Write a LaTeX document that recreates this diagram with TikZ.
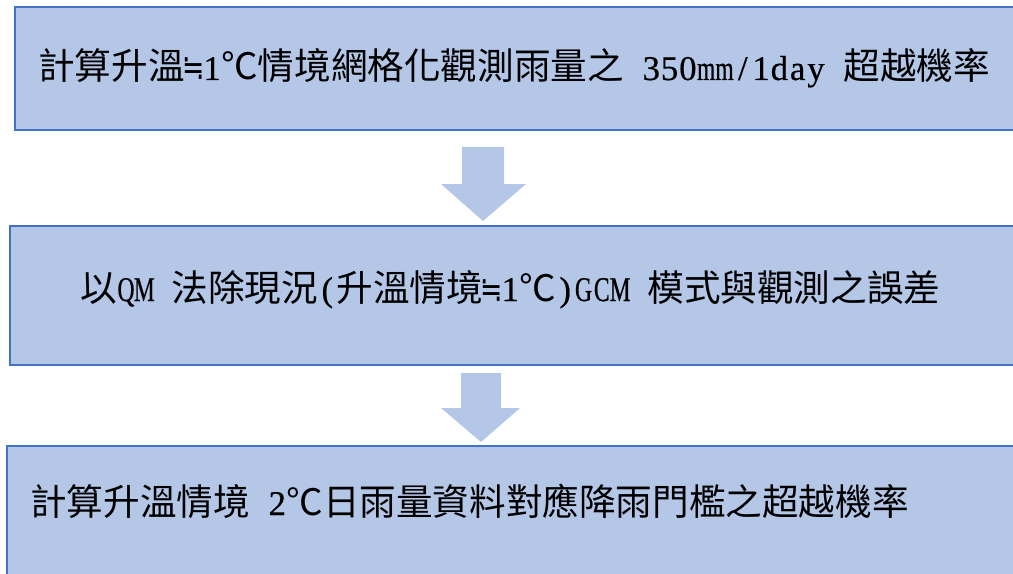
\documentclass[tikz,border=0pt]{standalone}
\usepackage{fontspec}
\setmainfont{Liberation Serif}
\newfontfamily\cjk{Noto Sans CJK TC}
\newfontfamily\latfont[FakeBold=0.5]{Liberation Serif}
\newfontfamily\latnfont[FakeStretch=0.68,FakeBold=0.5]{Liberation Serif}
\newfontfamily\symfont{DejaVu Sans}
\newlength\hw \setlength\hw{13.725pt}
\newcommand\hc[1]{\makebox[\hw][c]{\latfont\fontsize{26}{30}\selectfont #1}}
\newcommand\hn[1]{\makebox[\hw][c]{\latnfont\fontsize{26}{30}\selectfont #1}}
\newcommand\hs{\hspace*{\hw}}
\newcommand\approxeqsym{\makebox[\hw][c]{\symfont\fontsize{21}{24}\selectfont\scalebox{0.95}[1.25]{≒}}}
\definecolor{boxfill}{HTML}{B4C7E7}
\definecolor{boxline}{HTML}{4472C4}
\begin{document}
\begin{tikzpicture}[x=0.75pt,y=-0.75pt,
  stepbox/.style={draw=boxline,line width=1.5pt,fill=boxfill,rectangle,inner sep=0pt,outer sep=0pt,anchor=north west},
  steptext/.style={anchor=base west,inner sep=0pt,font=\cjk\fontsize{27.45}{33}\selectfont},
  blockarrow/.style={fill=boxfill,draw=none}]
\useasboundingbox (0,0) rectangle (1013,574);
\clip (0,0) rectangle (1013,574);
% boxes
\node[stepbox,minimum width=757.5pt,minimum height=92.25pt] (b1) at (15,7) {};
\node[stepbox,minimum width=761.25pt,minimum height=104.25pt] (b2) at (10,226) {};
\node[stepbox,minimum width=763.5pt,minimum height=105pt] (b3) at (7,446) {};
% texts
\node[steptext] (t1) at (38,80) {計算升溫\approxeqsym\hc{1}℃情境網格化觀測雨量之\hs\hc{3}\hc{5}\hc{0}\hn{m}\hn{m}\hc{/}\hc{1}\hc{d}\hc{a}\hc{y}\hs 超越機率};
\node[steptext] (t2) at (80,301) {以\hn{Q}\hn{M}\hs 法除現況\hc{(}升溫情境\approxeqsym\hc{1}℃\hc{)}\hn{G}\hn{C}\hn{M}\hs 模式與觀測之誤差};
\node[steptext] (t3) at (30,515) {計算升溫情境\hs\hc{2}℃日雨量資料對應降雨門檻之超越機率};
% block arrows
\coordinate (a1) at (483,221);
\coordinate (a2) at (481,442);
\fill[blockarrow] (462,147) -- (504,147) -- (504,184) -- (526,184) -- (a1) -- (441,184) -- (462,184) -- cycle;
\fill[blockarrow] (461,373) -- (501,373) -- (501,408) -- (520,408) -- (a2) -- (441,408) -- (461,408) -- cycle;
\end{tikzpicture}
\end{document}
